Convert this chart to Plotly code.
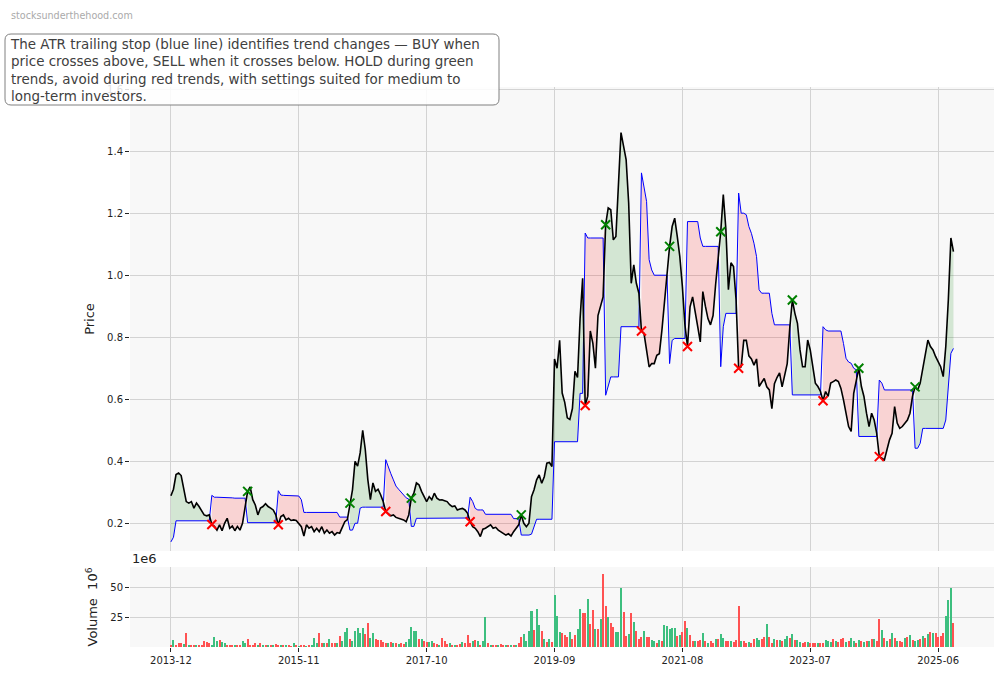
import plotly.graph_objects as go
from plotly.subplots import make_subplots
import pandas as pd

start_date = "2013-12-01"

price = [
    0.289, 0.31, 0.357, 0.362, 0.354, 0.314, 0.27, 0.265, 0.27, 0.249,
    0.265, 0.254, 0.238, 0.227, 0.224, 0.227, 0.196, 0.19, 0.178, 0.195,
    0.176, 0.2, 0.216, 0.184, 0.191, 0.176, 0.19, 0.178, 0.2, 0.254,
    0.303, 0.317, 0.276, 0.259, 0.227, 0.249, 0.254, 0.263, 0.254, 0.249,
    0.243, 0.227, 0.195, 0.222, 0.227, 0.211, 0.216, 0.209, 0.211, 0.209,
    0.2, 0.189, 0.159, 0.195, 0.184, 0.189, 0.173, 0.184, 0.173, 0.189,
    0.168, 0.178, 0.168, 0.173, 0.162, 0.17, 0.168, 0.189, 0.205, 0.212,
    0.265, 0.308, 0.4, 0.384, 0.427, 0.5, 0.438, 0.341, 0.276, 0.33,
    0.303, 0.31, 0.292, 0.27, 0.238, 0.232, 0.224, 0.227, 0.219, 0.216,
    0.213, 0.211, 0.205, 0.227, 0.281, 0.297, 0.33, 0.324, 0.303, 0.286,
    0.27, 0.286, 0.276, 0.297, 0.281, 0.275, 0.276, 0.273, 0.27, 0.26,
    0.254, 0.256, 0.243, 0.246, 0.248, 0.243, 0.232, 0.205, 0.189, 0.184,
    0.173, 0.157, 0.181, 0.184, 0.189, 0.195, 0.184, 0.187, 0.178, 0.173,
    0.166, 0.162, 0.166, 0.159, 0.173, 0.184, 0.195, 0.227, 0.2, 0.189,
    0.2, 0.286, 0.308, 0.34, 0.356, 0.329, 0.35, 0.394, 0.396, 0.383,
    0.73, 0.70, 0.79, 0.62, 0.59, 0.54, 0.535, 0.57, 0.69, 0.67,
    0.86, 0.99, 0.58, 0.61, 0.82, 0.78, 0.70, 0.87, 0.90, 0.93,
    1.163, 1.217, 1.211, 1.114, 1.125, 1.30, 1.46, 1.416, 1.373, 1.233,
    0.974, 1.033, 0.974, 0.942, 0.82, 0.812, 0.764, 0.704, 0.715, 0.715,
    0.742, 0.747, 0.823, 0.92, 0.99, 1.093, 1.157, 1.184, 1.125, 1.06,
    0.963, 0.84, 0.77, 0.898, 0.93, 0.888, 0.834, 0.785, 0.947, 0.9,
    0.86, 0.84, 0.87, 0.97, 1.06, 1.14, 1.26, 1.15, 0.953, 1.04,
    1.028, 0.92, 0.70, 0.705, 0.79, 0.79, 0.74, 0.73, 0.71, 0.73,
    0.641, 0.655, 0.667, 0.64, 0.63, 0.57, 0.65, 0.67, 0.685, 0.64,
    0.684, 0.715, 0.83, 0.92, 0.877, 0.845, 0.759, 0.705, 0.705, 0.791,
    0.759, 0.705, 0.652, 0.641, 0.625, 0.595, 0.625, 0.609, 0.652, 0.657,
    0.662, 0.657, 0.635, 0.598, 0.555, 0.512, 0.496, 0.619, 0.66, 0.70,
    0.641, 0.609, 0.555, 0.512, 0.555, 0.533, 0.49, 0.415, 0.41, 0.404,
    0.437, 0.469, 0.49, 0.576, 0.523, 0.506, 0.512, 0.523, 0.533, 0.555,
    0.61, 0.64, 0.63, 0.652, 0.695, 0.748, 0.791, 0.77, 0.759, 0.738,
    0.722, 0.705, 0.673, 0.77, 0.92, 1.12, 1.076,
]

stop = [
    0.14, 0.155, 0.208, 0.208, 0.208, 0.208, 0.208, 0.208, 0.208, 0.208,
    0.208, 0.208, 0.208, 0.208, 0.208, 0.208, 0.29, 0.284, 0.284, 0.284,
    0.284, 0.282, 0.282, 0.282, 0.282, 0.281, 0.281, 0.281, 0.281, 0.281,
    0.202, 0.202, 0.202, 0.202, 0.202, 0.202, 0.202, 0.202, 0.202, 0.202,
    0.202, 0.202, 0.305, 0.291, 0.29, 0.29, 0.29, 0.29, 0.29, 0.29,
    0.288, 0.276, 0.235, 0.235, 0.235, 0.235, 0.235, 0.235, 0.235, 0.235,
    0.235, 0.235, 0.235, 0.235, 0.235, 0.235, 0.22, 0.22, 0.22, 0.22,
    0.178, 0.178, 0.2, 0.2, 0.249, 0.252, 0.252, 0.252, 0.252, 0.252,
    0.252, 0.252, 0.252, 0.252, 0.405, 0.38, 0.36, 0.34, 0.32, 0.31,
    0.30, 0.29, 0.282, 0.278, 0.19, 0.19, 0.216, 0.216, 0.216, 0.216,
    0.216, 0.216, 0.216, 0.217, 0.217, 0.217, 0.217, 0.217, 0.217, 0.217,
    0.217, 0.217, 0.217, 0.217, 0.217, 0.217, 0.217, 0.284, 0.27, 0.248,
    0.243, 0.243, 0.243, 0.229, 0.229, 0.229, 0.229, 0.229, 0.229, 0.229,
    0.229, 0.229, 0.229, 0.229, 0.215, 0.215, 0.215, 0.162, 0.162, 0.162,
    0.162, 0.165, 0.19, 0.213, 0.213, 0.213, 0.213, 0.213, 0.213, 0.213,
    0.463, 0.463, 0.463, 0.463, 0.463, 0.463, 0.463, 0.463, 0.463, 0.463,
    0.619, 0.619, 1.136, 1.12, 1.12, 1.12, 1.12, 1.12, 1.12, 1.12,
    0.613, 0.64, 0.672, 0.672, 0.672, 0.672, 0.834, 0.834, 0.834, 0.834,
    0.834, 0.834, 0.834, 0.834, 1.33, 1.276, 1.238, 1.05, 1.017, 1.0,
    1.0, 1.0, 1.0, 1.0, 1.0, 0.715, 0.79, 0.796, 0.796, 0.796,
    0.796, 0.796, 1.173, 1.173, 1.173, 1.173, 1.173, 1.12, 1.093, 1.093,
    1.093, 1.093, 1.093, 1.093, 1.093, 0.705, 0.834, 0.877, 0.877, 0.877,
    0.877, 0.877, 1.265, 1.2, 1.2, 1.195, 1.157, 1.135, 1.103, 1.06,
    0.953, 0.942, 0.942, 0.942, 0.942, 0.877, 0.84, 0.84, 0.84, 0.84,
    0.84, 0.84, 0.84, 0.614, 0.614, 0.614, 0.614, 0.614, 0.614, 0.614,
    0.614, 0.614, 0.614, 0.614, 0.614, 0.834, 0.824, 0.82, 0.82, 0.82,
    0.82, 0.82, 0.82, 0.78, 0.732, 0.72, 0.716, 0.70, 0.695, 0.48,
    0.48, 0.48, 0.48, 0.48, 0.48, 0.48, 0.48, 0.662, 0.652, 0.63,
    0.63, 0.63, 0.63, 0.63, 0.63, 0.63, 0.63, 0.63, 0.63, 0.63,
    0.63, 0.442, 0.442, 0.458, 0.506, 0.506, 0.506, 0.506, 0.506, 0.506,
    0.506, 0.506, 0.506, 0.533, 0.63, 0.748, 0.764,
]

volume_m = [
    2, 5.8, 2, 3, 3.6, 2.5, 11.7, 2, 1.5, 1,
    1, 1.5, 2, 5, 4, 3.6, 2, 8.3, 5, 5.8,
    4.4, 3.3, 1.5, 1, 2, 1, 2, 1.5, 5, 3.6,
    6.7, 2, 1.5, 3.3, 2, 3, 2, 1.5, 1.5, 1,
    1, 2.5, 2, 1.5, 1.5, 2, 1, 0.8, 3.3, 1,
    0.8, 1, 1, 0.8, 1, 1, 7.2, 3.6, 11.7, 3,
    3, 3, 7, 3.6, 3, 3.5, 9.2, 5, 12.5, 15.6,
    6.4, 5, 13.3, 16, 12, 16, 11, 19.7, 7.8, 12,
    6.4, 5.5, 5.5, 4, 3.6, 3.3, 4.4, 3, 3.6, 2.5,
    3, 2.5, 4.4, 6.4, 16.7, 13.3, 13.3, 6.4, 6.4, 5,
    4, 4, 5, 3, 2.5, 2, 7.2, 5, 2.5, 3,
    2, 1.5, 2, 2.5, 4.2, 3, 10, 3, 5, 5.5,
    5, 2, 5, 25, 3, 2, 2, 1.5, 2, 2.5,
    1.5, 2, 2, 1.5, 2, 2, 3, 8.3, 10.5, 5,
    13, 30, 14, 32, 18, 13.3, 6.4, 4.4, 6.4, 4.4,
    43, 26, 12.8, 12, 10, 8, 12.8, 6.4, 10, 14.7,
    32, 28, 28.6, 39.7, 19.4, 30.6, 15, 15, 23, 60.5,
    34, 25, 20, 17, 12.8, 12.8, 49.4, 29, 9.2, 10.5,
    28.6, 20.8, 13.3, 6.4, 8.3, 13.3, 8.3, 8.3, 5.5, 5,
    3.6, 5.5, 5, 18.3, 17.5, 14.7, 15.5, 16, 9.2, 10,
    12.8, 21.7, 16, 10, 5, 5, 5, 5.5, 12, 5,
    3.6, 5, 3.6, 6.4, 7, 10.5, 7.2, 5, 5, 5,
    4.4, 5.5, 34, 5, 5, 3.6, 4.4, 3.6, 6.4, 7.2,
    5.5, 6.4, 8.3, 19.4, 8.3, 3.6, 6.4, 5.5, 5.5, 5,
    6.4, 9.2, 7.2, 11, 5.5, 5.5, 4.4, 3.6, 4.4, 4.4,
    3.6, 3.3, 3, 3.3, 3.6, 3, 5.5, 5, 4.4, 6.4,
    5, 4, 6.4, 7.2, 4.4, 5, 7.8, 5, 3.6, 5.5,
    5, 4, 5, 5, 6.4, 6.4, 5, 23, 14, 7.8,
    5, 6.4, 12, 7.8, 5, 5, 4, 7.8, 8.3, 10,
    5.5, 5, 5.5, 6.4, 9.2, 7.8, 10.5, 12.8, 12, 12,
    8.3, 9.2, 12, 25.8, 39, 49, 20,
]

volume_up = [
    0, 1, 0, 0, 0, 1, 0, 1, 0, 0,
    1, 0, 0, 0, 0, 0, 1, 1, 1, 0,
    1, 1, 0, 0, 0, 1, 0, 0, 1, 1,
    0, 0, 0, 0, 1, 0, 1, 0, 1, 0,
    1, 0, 0, 1, 0, 1, 0, 0, 1, 0,
    1, 0, 0, 1, 0, 1, 1, 1, 0, 0,
    1, 0, 1, 0, 0, 1, 0, 1, 1, 1,
    0, 1, 1, 1, 1, 1, 0, 0, 1, 1,
    0, 0, 0, 0, 0, 1, 0, 1, 0, 1,
    0, 0, 1, 1, 1, 1, 1, 0, 1, 0,
    0, 1, 1, 0, 0, 1, 0, 0, 0, 1,
    0, 1, 0, 0, 1, 0, 0, 0, 1, 0,
    1, 0, 1, 1, 0, 1, 0, 0, 1, 0,
    0, 1, 0, 1, 0, 1, 0, 0, 1, 1,
    1, 1, 0, 1, 1, 0, 1, 0, 1, 0,
    1, 1, 1, 0, 0, 0, 1, 0, 0, 1,
    1, 0, 0, 1, 0, 0, 1, 0, 1, 0,
    0, 1, 0, 0, 1, 1, 1, 0, 0, 1,
    0, 1, 0, 0, 0, 1, 0, 0, 1, 1,
    0, 1, 0, 1, 1, 1, 1, 1, 0, 1,
    0, 0, 1, 0, 0, 1, 0, 0, 1, 0,
    1, 0, 0, 1, 0, 1, 1, 0, 0, 1,
    0, 0, 0, 1, 0, 0, 1, 0, 0, 1,
    1, 0, 0, 1, 0, 0, 1, 0, 1, 0,
    1, 1, 0, 1, 0, 1, 1, 0, 0, 1,
    0, 0, 0, 1, 0, 0, 1, 1, 1, 0,
    1, 0, 0, 0, 1, 0, 1, 1, 0, 1,
    0, 1, 0, 1, 0, 1, 0, 0, 1, 0,
    1, 0, 1, 0, 1, 0, 0, 1, 0, 1,
    0, 1, 1, 0, 1, 0, 1, 0, 1, 0,
    0, 0, 0, 1, 1, 1, 0,
]

buy_idx = [30, 70, 94, 137, 170, 195, 215, 243, 269, 291]
sell_idx = [16, 42, 84, 117, 162, 184, 202, 222, 255, 277]

tick_dates = ["2013-12-01", "2015-11-01", "2017-10-01", "2019-09-01",
              "2021-08-01", "2023-07-01", "2025-06-01"]
tick_labels = ["2013-12", "2015-11", "2017-10", "2019-09",
               "2021-08", "2023-07", "2025-06"]

N = len(price)
dates = list(pd.date_range(start_date, periods=N, freq="14D"))

fig = make_subplots(rows=2, cols=1, shared_xaxes=True)

GREEN_FILL = "rgba(0,128,0,0.15)"
RED_FILL = "rgba(255,0,0,0.15)"

# trend fills between price and ATR stop
bounds = [0] + sorted(buy_idx + sell_idx) + [N - 1]
up = True
for k in range(len(bounds) - 1):
    s, e = bounds[k], bounds[k + 1]
    last = k == len(bounds) - 2
    xs = dates[s:e + 1]
    upper = price[s:e + 1]
    lower = stop[s:e + 1] if last else stop[s:e] + [price[e]]
    fig.add_trace(go.Scatter(
        x=xs + xs[::-1], y=upper + lower[::-1], fill="toself",
        fillcolor=GREEN_FILL if up else RED_FILL, line=dict(width=0),
        mode="lines", hoverinfo="skip", showlegend=False), row=1, col=1)
    up = not up

fig.add_trace(go.Scatter(x=dates, y=stop, mode="lines",
                         line=dict(color="#0000ff", width=1),
                         showlegend=False), row=1, col=1)
fig.add_trace(go.Scatter(x=dates, y=price, mode="lines",
                         line=dict(color="black", width=1.6),
                         showlegend=False), row=1, col=1)
fig.add_trace(go.Scatter(
    x=[dates[i] for i in buy_idx], y=[price[i] for i in buy_idx],
    mode="markers", showlegend=False,
    marker=dict(symbol="x-thin", size=9, line=dict(width=2, color="green"))),
    row=1, col=1)
fig.add_trace(go.Scatter(
    x=[dates[i] for i in sell_idx], y=[price[i] for i in sell_idx],
    mode="markers", showlegend=False,
    marker=dict(symbol="x-thin", size=9, line=dict(width=2, color="red"))),
    row=1, col=1)

bar_colors = ["#3dbf7f" if u else "#ff5252" for u in volume_up]
fig.add_trace(go.Bar(x=dates, y=volume_m, marker=dict(color=bar_colors, line=dict(width=0)),
                     width=11 * 86400000, showlegend=False), row=2, col=1)

W, H = 1004, 678
ML, MR, MT, MB = 130, 10, 87, 31
PH = H - MT - MB

def py(pix):
    return (H - MB - pix) / PH

tickfont = dict(family="DejaVu Sans", size=10, color="#222")
grid = "#d3d3d3"

fig.update_layout(
    width=W, height=H, margin=dict(l=ML, r=MR, t=MT, b=MB),
    paper_bgcolor="white", plot_bgcolor="#f8f8f8",
    font=dict(family="DejaVu Sans", color="#222"),
    bargap=0,
    xaxis=dict(range=["2013-04-21", "2026-04-03"], tickvals=tick_dates,
               showticklabels=False, ticks="", showgrid=True, gridcolor=grid,
               zeroline=False, showline=False),
    xaxis2=dict(range=["2013-04-21", "2026-04-03"], tickvals=tick_dates,
                ticktext=tick_labels, ticks="outside", ticklen=4, tickcolor="#222",
                tickfont=tickfont, showgrid=True, gridcolor=grid,
                zeroline=False, showline=False),
    yaxis=dict(domain=[py(551), 1.0], range=[0.1106, 1.607], dtick=0.2, tick0=0,
               tickformat=".1f", ticks="outside", ticklen=4, tickcolor="#222",
               tickfont=tickfont, showgrid=True, gridcolor=grid, zeroline=False,
               title=dict(text="Price", font=dict(size=13, color="#222"), standoff=9)),
    yaxis2=dict(domain=[0, py(567)], range=[0, 66.7], tickvals=[25, 50],
                ticks="outside", ticklen=4, tickcolor="#222",
                tickfont=tickfont, showgrid=True, gridcolor=grid, zeroline=False,
                title=dict(text="Volume  10<sup>6</sup>", font=dict(size=13, color="#222"),
                           standoff=9)),
)

fig.add_annotation(text="1e6", xref="paper", yref="paper", x=0, y=py(558),
                   xanchor="left", yanchor="middle", showarrow=False,
                   font=dict(size=13, color="#222"))

fig.add_annotation(text="stocksunderthehood.com", xref="paper", yref="paper",
                   x=(9 - ML) / (W - ML - MR), y=py(15), xanchor="left", yanchor="middle",
                   showarrow=False, font=dict(size=9.6, color="#aaaaaa"))

# rounded info box
L, R, T, B = 5 - ML, 499 - ML, MT - 34, MT - 105
r = 6
path = (f"M {L + r},{T} L {R - r},{T} Q {R},{T} {R},{T - r} L {R},{B + r} "
        f"Q {R},{B} {R - r},{B} L {L + r},{B} Q {L},{B} {L},{B + r} "
        f"L {L},{T - r} Q {L},{T} {L + r},{T} Z")
fig.add_shape(type="path", path=path, xref="paper", yref="paper",
              xsizemode="pixel", ysizemode="pixel", xanchor=0, yanchor=1,
              line=dict(color="#808080", width=1), fillcolor="rgba(255,255,255,0.85)",
              layer="above")

fig.add_annotation(
    text=("The ATR trailing stop (blue line) identifies trend changes \u2014 BUY when<br>"
          "price crosses above, SELL when it crosses below. HOLD during green<br>"
          "trends, avoid during red trends, with settings suited for medium to<br>"
          "long-term investors."),
    xref="paper", yref="paper", x=(8 - ML) / (W - ML - MR), y=1 + (MT - 35) / PH,
    xanchor="left", yanchor="top", align="left", showarrow=False,
    font=dict(family="DejaVu Sans", size=13.45, color="#404040"))

fig.write_html("out.html", config={"displayModeBar": False},
               post_script="document.body.style.margin='0';document.body.style.padding='0';")
